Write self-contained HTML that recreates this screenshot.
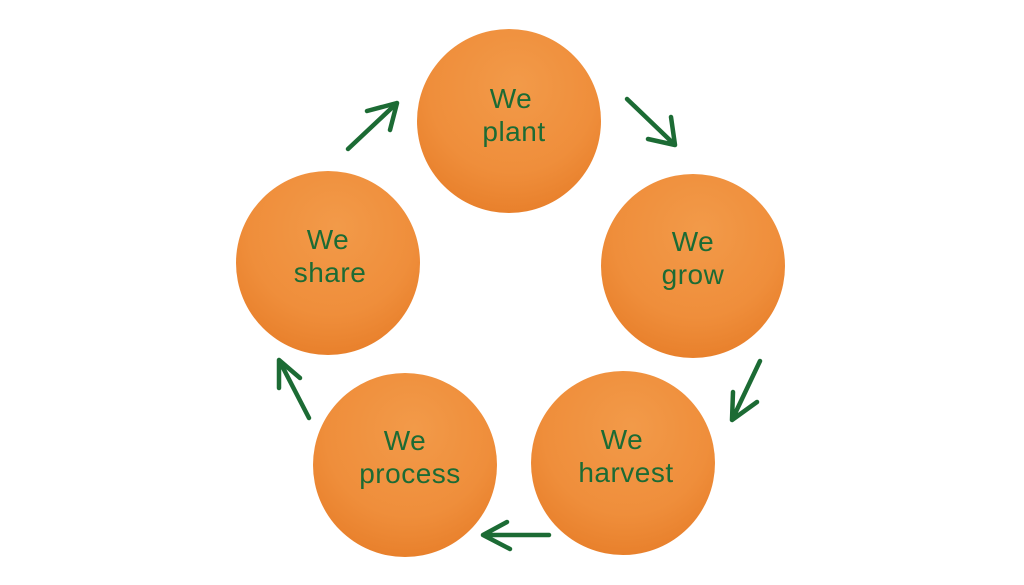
<!DOCTYPE html>
<html><head><meta charset="utf-8"><style>
html,body{margin:0;padding:0;background:#fff;}
svg{display:block}
text{font-family:"Liberation Sans",sans-serif;font-size:28px;fill:#1c6b34;text-anchor:middle;letter-spacing:0.5px}
</style></head><body>
<svg width="1024" height="585" viewBox="0 0 1024 585">
<defs>
<radialGradient id="g" cx="0.5" cy="0.35" r="0.75" fx="0.55" fy="0.3">
<stop offset="0" stop-color="#f29a49"/>
<stop offset="0.6" stop-color="#ef8e3b"/>
<stop offset="1" stop-color="#e57a25"/>
</radialGradient>
</defs>
<g fill="url(#g)">
<circle cx="509" cy="121" r="92"/>
<circle cx="693" cy="266" r="92"/>
<circle cx="623" cy="463" r="92"/>
<circle cx="405" cy="465" r="92"/>
<circle cx="328" cy="263" r="92"/>
</g>
<text x="511" y="108">We</text><text x="514" y="141">plant</text>
<text x="693" y="251">We</text><text x="693" y="284">grow</text>
<text x="622" y="449">We</text><text x="626" y="482">harvest</text>
<text x="405" y="450">We</text><text x="410" y="483">process</text>
<text x="328" y="249">We</text><text x="330" y="282">share</text>
<g stroke="#1c6b34" stroke-width="4.5" fill="none" stroke-linecap="round" stroke-linejoin="round">
<path d="M348 149 L397 103 M367 111 L397 103 L390 130"/>
<path d="M627 99 L675 145 M671 117 L675 145 L648 139"/>
<path d="M760 361 L732 420 M733 392 L732 420 L757 402"/>
<path d="M549 535 L483 535 M507 522 L483 535 L510 549"/>
<path d="M309 418 L279 360 M279 388 L279 360 L300 378"/>
</g>
</svg>
</body></html>
